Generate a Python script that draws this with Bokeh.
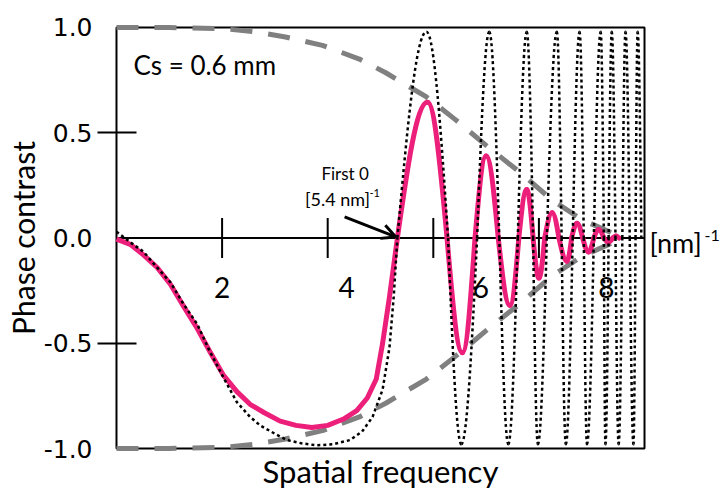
from bokeh.plotting import figure
from bokeh.models import FixedTicker, Label, Arrow, OpenHead, LinearAxis
from bokeh.embed import file_html
from bokeh.resources import INLINE

# ---------------- data ----------------
X_MAX = 10
Y_MIN, Y_MAX = -1, 1

# envelope (grey dashed), upper branch; lower branch is its mirror
env_k = [0.0, 1.0, 2.0, 2.6, 3.2, 3.9, 4.6, 5.1, 5.87, 6.43, 7.0, 7.65, 8.25, 8.81, 9.38, 9.64]
env_y = [1.0, 1.0, 0.995, 0.98, 0.955, 0.915, 0.85, 0.785, 0.67, 0.56, 0.44, 0.31, 0.18, 0.088, 0.024, 0.0]

# damped CTF (pink), first lobe
pink_lobe_k = [0.0, 0.26, 0.51, 0.77, 1.02, 1.26, 1.53, 1.77, 2.02, 2.28, 2.53, 2.8, 3.1, 3.4,
               3.7, 4.0, 4.3, 4.55, 4.75, 4.92, 5.04, 5.17, 5.32]
pink_lobe_y = [-0.005, -0.03, -0.08, -0.14, -0.22, -0.32, -0.43, -0.54, -0.65, -0.73, -0.79, -0.83,
               -0.87, -0.89, -0.90, -0.89, -0.86, -0.82, -0.76, -0.67, -0.50, -0.28, 0.0]
# damped CTF, zero crossings and extrema after the first zero
pink_knot_k = [5.32, 5.89, 6.26, 6.55, 6.79, 7.00, 7.23, 7.45, 7.62, 7.77, 7.89, 8.00, 8.11, 8.25,
               8.38, 8.53, 8.62, 8.72, 8.83, 8.94, 9.04, 9.13, 9.23, 9.32, 9.40, 9.46, 9.52]
pink_knot_y = [0.0, 0.645, 0.0, -0.545, 0.0, 0.39, 0.0, -0.32, 0.0, 0.23, 0.0, -0.19, 0.0, 0.12,
               0.0, -0.11, 0.0, 0.07, 0.0, -0.066, 0.0, 0.04, 0.0, -0.02, 0.0, 0.01, 0.0]

# undamped CTF (black dotted), first lobe
dot_lobe_k = [0.0, 0.26, 0.51, 0.77, 1.02, 1.26, 1.53, 1.77, 2.02, 2.28, 2.53, 2.72, 3.0, 3.23,
              3.5, 3.79, 4.1, 4.42, 4.65, 4.85, 5.04, 5.17, 5.25, 5.32]
dot_lobe_y = [0.03, -0.02, -0.065, -0.14, -0.21, -0.31, -0.41, -0.54, -0.66, -0.78, -0.85, -0.89,
              -0.93, -0.96, -0.975, -0.985, -0.98, -0.96, -0.92, -0.85, -0.72, -0.52, -0.28, 0.0]
# undamped CTF, zero crossings and extrema
dot_knot_k = [5.32, 5.87, 6.28, 6.53, 6.83, 7.06, 7.25, 7.42, 7.60, 7.77, 7.89, 7.98, 8.15, 8.34,
              8.43, 8.51, 8.64, 8.77, 8.85, 8.91, 9.04, 9.17, 9.23, 9.26, 9.32, 9.38, 9.45, 9.51,
              9.58, 9.64, 9.72, 9.79, 9.83, 9.87, 9.94]
dot_knot_y = [0.0, 0.98, 0.0, -0.98, 0.0, 0.98, 0.0, -0.98, 0.0, 0.98, 0.0, -0.98, 0.0, 0.98,
              0.0, -0.98, 0.0, 0.98, 0.0, -0.98, 0.0, 0.98, 0.0, -0.98, 0.0, 0.98, 0.0, -0.98,
              0.0, 0.98, 0.0, -0.98, 0.0, 0.98, 0.0]

x_ticks = [2, 4, 6, 8]
x_tick_labels = ["2", "4", "6", "8"]
x_tick_label_pos = [2.0, 4.36, 6.9, 9.28]
y_ticks = [-1, -0.5, 0, 0.5, 1]
y_tick_labels = ["-1.0", "-0.5", "0.0", "0.5", "1.0"]
y_minor_ticks = [-0.5, 0.5]

FIRST_ZERO = 5.32

PINK = "#EC1F7A"
GREY = "#808080"
FONT = "Lato"
NUM_FONT = "DejaVu Sans"


def quarter_waves(ks, ys):
    """Cubic Bezier pieces between consecutive zero/extremum knots."""
    out = dict(x0=[], y0=[], x1=[], y1=[], cx0=[], cy0=[], cx1=[], cy1=[])
    for i in range(len(ks) - 1):
        xa, ya, xb, yb = ks[i], ys[i], ks[i + 1], ys[i + 1]
        w = xb - xa
        if abs(ya) < abs(yb):
            c0 = (xa + 0.3261 * w, ya + 0.5122 * (yb - ya))
            c1 = (xa + 0.6396 * w, yb)
        else:
            c0 = (xa + 0.3604 * w, ya)
            c1 = (xa + 0.6739 * w, ya + 0.4878 * (yb - ya))
        out["x0"].append(xa); out["y0"].append(ya)
        out["x1"].append(xb); out["y1"].append(yb)
        out["cx0"].append(c0[0]); out["cy0"].append(c0[1])
        out["cx1"].append(c1[0]); out["cy1"].append(c1[1])
    return out


pad_x = 0.0566
pad_y = 0.0142
p = figure(width=722, height=492,
           x_range=(-pad_x, X_MAX + pad_x), y_range=(Y_MIN - pad_y, Y_MAX + pad_y),
           min_border_left=113, min_border_right=73, min_border_top=24, min_border_bottom=40,
           output_backend="svg", toolbar_location=None)
p.grid.visible = False
p.outline_line_color = None
p.background_fill_color = "white"

# y axis (left)
ya = p.yaxis[0]
ya.ticker = FixedTicker(ticks=y_ticks, minor_ticks=y_minor_ticks)
ya.major_label_overrides = dict(zip(y_ticks, y_tick_labels))
ya.axis_line_color = None
ya.major_tick_line_color = None
ya.major_tick_in = 0
ya.major_tick_out = 0
ya.minor_tick_in = 23
ya.minor_tick_out = 16
ya.minor_tick_line_color = "black"
ya.minor_tick_line_width = 2
ya.major_label_standoff = 5
ya.major_label_text_font = NUM_FONT
ya.major_label_text_font_size = "25px"
ya.major_label_text_color = "black"
ya.axis_label = "Phase contrast"
ya.axis_label_standoff = 0
ya.axis_label_text_font = FONT
ya.axis_label_text_font_size = "30px"
ya.axis_label_text_font_style = "normal"
ya.axis_label_text_color = "black"

# x axis (below) only carries the title
xa = p.xaxis[0]
xa.ticker = FixedTicker(ticks=[])
xa.major_label_text_font_size = "0px"
xa.major_label_standoff = 0
xa.major_tick_out = 0
xa.major_tick_in = 0
xa.axis_line_color = None
xa.axis_label = "Spatial frequency"
xa.axis_label_standoff = 0
xa.axis_label_text_font = FONT
xa.axis_label_text_font_size = "31px"
xa.axis_label_text_font_style = "normal"
xa.axis_label_text_color = "black"

# unit "[nm]^-1" right of the frame, as two right-hand axes
UNIT_Y = -0.02
SUP_Y = 0.012
for tick, text, size, stand in [(UNIT_Y, "[nm]", "27px", 2), (SUP_Y, "-1", "16px", 0)]:
    ax = LinearAxis(ticker=FixedTicker(ticks=[tick]), major_label_overrides={tick: text},
                    axis_line_color=None, major_tick_line_color=None,
                    major_tick_in=0, major_tick_out=0, major_label_standoff=stand,
                    major_label_text_font=FONT, major_label_text_font_size=size,
                    major_label_text_color="black")
    p.add_layout(ax, "right")

# frame box
p.quad(left=0, right=X_MAX, bottom=Y_MIN, top=Y_MAX, fill_color=None,
       line_color="black", line_width=2)

# envelope
p.line(env_k, env_y, line_color=GREY, line_width=5, line_dash="22 16")
p.line(env_k, [-v for v in env_y], line_color=GREY, line_width=5, line_dash="22 16")

# x axis through zero with ticks
p.line([0, X_MAX], [0, 0], line_color="black", line_width=2)
p.segment(x0=x_ticks, y0=[-0.095] * len(x_ticks), x1=x_ticks, y1=[0.095] * len(x_ticks),
          line_color="black", line_width=2)

# damped curve
p.line(pink_lobe_k, pink_lobe_y, line_color=PINK, line_width=5, line_join="round")
bz = quarter_waves(pink_knot_k, pink_knot_y)
p.bezier(source=bz, x0="x0", y0="y0", x1="x1", y1="y1", cx0="cx0", cy0="cy0",
         cx1="cx1", cy1="cy1", line_color=PINK, line_width=5, line_cap="round")

# undamped curve
p.line(dot_lobe_k, dot_lobe_y, line_color="black", line_width=2.5, line_dash="3 3")
bz2 = quarter_waves(dot_knot_k, dot_knot_y)
p.bezier(source=bz2, x0="x0", y0="y0", x1="x1", y1="y1", cx0="cx0", cy0="cy0",
         cx1="cx1", cy1="cy1", line_color="black", line_width=2.5, line_dash="3 3")

# x tick labels
for pos, lab in zip(x_tick_label_pos, x_tick_labels):
    p.add_layout(Label(x=pos, y=-0.237, text=lab, text_font=FONT, text_font_size="28px",
                       text_align="center", text_baseline="middle", text_color="black"))


def lab(x, y, t, size, align="left", base="middle"):
    p.add_layout(Label(x=x, y=y, text=t, text_font=FONT, text_font_size=size,
                       text_align=align, text_baseline=base, text_color="black"))


lab(0.32, 0.82, "Cs = 0.6 mm", "26px")
lab(4.33, 0.305, "First 0", "17px", align="center")
lab(3.57, 0.185, "[5.4 nm]", "18px")
lab(4.79, 0.215, "-1", "11px")

p.add_layout(Arrow(end=OpenHead(size=14, line_width=3, line_color="black"),
                   x_start=4.32, y_start=0.10, x_end=FIRST_ZERO - 0.03, y_end=0.005,
                   line_width=3, line_color="black"))

open("out.html", "w").write(file_html(p, INLINE))
